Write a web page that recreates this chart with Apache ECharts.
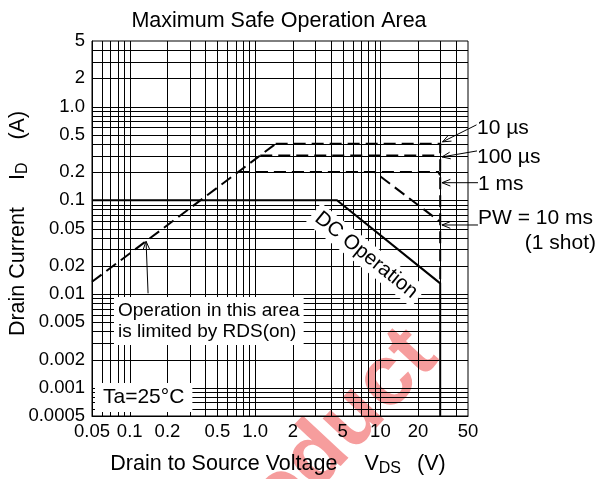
<!DOCTYPE html>
<html>
<head>
<meta charset="utf-8">
<script src="https://cdn.jsdelivr.net/npm/echarts@6/dist/echarts.min.js"></script>
<style>
  html, body { margin: 0; padding: 0; background: #fff; }
  #chart { width: 599px; height: 479px; }
</style>
</head>
<body>
<div id="chart"></div>
<script>
// Axis ranges and tick labels (log-log)
const xRange = [0.05, 50];
const yRange = [0.0005, 5];
const xTickLabels = ['0.05', '0.1', '0.2', '0.5', '1.0', '2', '5', '10', '20', '50'];
const yTickLabels = ['0.0005', '0.001', '0.002', '0.005', '0.01', '0.02', '0.05', '0.1', '0.2', '0.5', '1.0', '2', '5'];

// Log grid lines (1..9 in every decade)
const xGridValues = [0.06, 0.07, 0.08, 0.09, 0.1, 0.2, 0.3, 0.4, 0.5, 0.6, 0.7, 0.8, 0.9,
                     1, 2, 3, 4, 5, 6, 7, 8, 9, 10, 20, 30, 40];
const yGridValues = [0.0006, 0.0007, 0.0008, 0.0009, 0.001, 0.002, 0.003, 0.004, 0.005,
                     0.006, 0.007, 0.008, 0.009, 0.01, 0.02, 0.03, 0.04, 0.05, 0.06, 0.07,
                     0.08, 0.09, 0.1, 0.2, 0.3, 0.4, 0.5, 0.6, 0.7, 0.8, 0.9, 1, 2, 3, 4];

// Safe operating area boundaries: [VDS (V), ID (A)]
const rdsLimit   = [[0.05, 0.0135], [1.46, 0.4]];
const pulse10us  = [[1.46, 0.4], [30, 0.4], [30, 0.013]];
const pulse100us = [[1.1, 0.3], [30, 0.3]];
const pulse1ms   = [[0.73, 0.2], [29, 0.2], [30, 0.185]];
const pulse10ms  = [[0.73, 0.2], [9, 0.2], [30, 0.059]];
const dcLimit    = [[0.05, 0.1], [4.5, 0.1], [30, 0.013], [30, 0.0005]];

// Callout arrow tips (data space) and where each arrow's tail sits relative to its tip (px)
const calloutTips = [[31.3, 0.42], [31, 0.29], [31, 0.154], [31, 0.0545], [0.135, 0.0365]];
const calloutTails = [[34, -17], [35, -6], [36, 0], [36, 0], [2, 52]];

// Anchor of the rotated "DC Operation" caption (data space)
const dcLabelAt = [7.7, 0.026];

const FONT = 'Liberation Sans';

function nearestLabel(list) {
  return function (v) {
    let best = list[0], bd = Infinity;
    for (const s of list) {
      const d = Math.abs(Math.log(parseFloat(s) / v));
      if (d < bd) { bd = d; best = s; }
    }
    return best;
  };
}

function gridSeries(values, dir) {
  return {
    type: 'custom', z: 1, silent: true, animation: false,
    data: values.map(v => dir === 'x' ? [v, yRange[0]] : [xRange[0], v]),
    renderItem: function (params, api) {
      if (dir === 'x') {
        const v = api.value(0);
        const a = api.coord([v, yRange[0]]), b = api.coord([v, yRange[1]]);
        const x = Math.round(a[0]) + 0.5;
        return { type: 'line', shape: { x1: x, y1: a[1], x2: x, y2: b[1] },
                 style: { stroke: '#000', lineWidth: 1 } };
      }
      const v = api.value(1);
      const a = api.coord([xRange[0], v]), b = api.coord([xRange[1], v]);
      const y = Math.round(a[1]) + 0.5;
      return { type: 'line', shape: { x1: a[0], y1: y, x2: b[0], y2: y },
               style: { stroke: '#000', lineWidth: 1 } };
    }
  };
}

function curve(name, data, dashed) {
  return {
    name: name, type: 'line', data: data, symbol: 'none', showSymbol: false,
    silent: true, animation: false, z: 4,
    lineStyle: { color: '#000', width: 2, type: dashed ? [12, 6] : 'solid', cap: 'butt', join: 'miter' }
  };
}

const chart = echarts.init(document.getElementById('chart'), null, { renderer: 'canvas' });

chart.setOption({
  animation: false,
  backgroundColor: '#fff',
  textStyle: { fontFamily: FONT, color: '#000' },
  title: {
    text: 'Maximum Safe Operation Area',
    left: 279, top: 21, padding: 0,
    textAlign: 'center', textVerticalAlign: 'middle',
    textStyle: { fontFamily: FONT, fontSize: 21.5, fontWeight: 'normal', color: '#000' }
  },
  grid: {
    left: 92, right: 131, top: 41, bottom: 63,
    containLabel: false, outerBoundsMode: 'none',
    show: true, borderColor: '#000', borderWidth: 1, backgroundColor: 'transparent'
  },
  xAxis: {
    type: 'log', logBase: 10, min: xRange[0], max: xRange[1],
    axisLine: { show: true, lineStyle: { color: '#000', width: 1 } },
    axisTick: { show: false },
    splitLine: { show: false },
    axisLabel: {
      customValues: xTickLabels.map(parseFloat),
      formatter: nearestLabel(xTickLabels),
      fontFamily: FONT, fontSize: 18.5, color: '#000', margin: 6
    },
    name: '{a|Drain to Source Voltage}{v|V}{s|DS}{p|(V)}',
    nameLocation: 'middle', nameGap: 35, nameMoveOverlap: false,
    nameTextStyle: {
      rich: {
        a: { fontFamily: FONT, fontSize: 21.5, color: '#000' },
        v: { fontFamily: FONT, fontSize: 21.5, color: '#000', padding: [0, 0, 0, 27] },
        s: { fontFamily: FONT, fontSize: 16, color: '#000', padding: [10, 0, 0, 0] },
        p: { fontFamily: FONT, fontSize: 21.5, color: '#000', padding: [0, 4, 0, 16] }
      }
    }
  },
  yAxis: {
    type: 'log', logBase: 10, min: yRange[0], max: yRange[1],
    axisLine: { show: true, lineStyle: { color: '#000', width: 1 } },
    axisTick: { show: false },
    splitLine: { show: false },
    axisLabel: {
      customValues: yTickLabels.map(parseFloat),
      formatter: nearestLabel(yTickLabels),
      fontFamily: FONT, fontSize: 18.5, color: '#000', margin: 7
    },
    name: '{a|Drain Current}{i|I}{s|D}{p|(A)}',
    nameLocation: 'middle', nameGap: 61, nameMoveOverlap: false,
    nameTextStyle: {
      rich: {
        a: { fontFamily: FONT, fontSize: 21.5, color: '#000', padding: [0, 0, 0, 10] },
        i: { fontFamily: FONT, fontSize: 21.5, color: '#000', padding: [0, 0, 0, 27] },
        s: { fontFamily: FONT, fontSize: 16, color: '#000', padding: [10, 0, 0, 0] },
        p: { fontFamily: FONT, fontSize: 21.5, color: '#000', padding: [0, 0, 0, 23] }
      }
    }
  },
  graphic: {
    elements: [
      {
        type: 'text', z: 0, silent: true, x: 423, y: 343, rotation: 0.82,
        style: { text: 'product', font: 'bold 86px "Liberation Sans"', fill: 'rgba(238,60,60,0.5)',
                 align: 'right', verticalAlign: 'middle' }
      },
      {
        type: 'text', z: 3, silent: true, x: 114, y: 297,
        style: { text: 'Operation in this area\nis limited by RDS(on)', font: '19px "Liberation Sans"',
                 fill: '#000', backgroundColor: '#fff', padding: [3, 4, 3, 4], lineHeight: 21,
                 align: 'left', verticalAlign: 'top' }
      },
      {
        type: 'text', z: 3, silent: true, x: 95, y: 383,
        style: { text: 'Ta=25°C', font: '21px "Liberation Sans"', fill: '#000', backgroundColor: '#fff',
                 padding: [4, 8, 4, 8], align: 'left', verticalAlign: 'top' }
      },
      { type: 'text', silent: true, x: 477, y: 128,
        style: { text: '10 µs', font: '21px "Liberation Sans"', fill: '#000', align: 'left', verticalAlign: 'middle' } },
      { type: 'text', silent: true, x: 477, y: 157,
        style: { text: '100 µs', font: '21px "Liberation Sans"', fill: '#000', align: 'left', verticalAlign: 'middle' } },
      { type: 'text', silent: true, x: 478, y: 184,
        style: { text: '1 ms', font: '21px "Liberation Sans"', fill: '#000', align: 'left', verticalAlign: 'middle' } },
      { type: 'text', silent: true, x: 478, y: 218,
        style: { text: 'PW = 10 ms', font: '21px "Liberation Sans"', fill: '#000', align: 'left', verticalAlign: 'middle' } },
      { type: 'text', silent: true, x: 596, y: 243,
        style: { text: '(1 shot)', font: '21px "Liberation Sans"', fill: '#000', align: 'right', verticalAlign: 'middle' } }
    ]
  },
  series: [
    gridSeries(xGridValues, 'x'),
    gridSeries(yGridValues, 'y'),
    {
      // rotated caption along the DC limit
      type: 'custom', z: 3, silent: true, animation: false,
      data: [dcLabelAt],
      renderItem: function (params, api) {
        const p = api.coord([api.value(0), api.value(1)]);
        const a = api.coord(dcLimit[1]), b = api.coord(dcLimit[2]);
        const rot = -Math.atan2(b[1] - a[1], b[0] - a[0]);
        return {
          type: 'text', x: p[0], y: p[1], rotation: rot,
          style: { text: 'DC Operation', font: '20.5px "Liberation Sans"', fill: '#000',
                   align: 'center', verticalAlign: 'middle', backgroundColor: '#fff', padding: [2, 5] }
        };
      }
    },
    curve('RDS(on) limit', rdsLimit, true),
    curve('10 µs', pulse10us, true),
    curve('100 µs', pulse100us, true),
    curve('1 ms', pulse1ms, true),
    curve('10 ms', pulse10ms, true),
    curve('DC', dcLimit, false),
    {
      // callout arrows with open heads
      type: 'custom', z: 5, silent: true, animation: false,
      data: calloutTips.map((t, i) => [t[0], t[1], i]),
      renderItem: function (params, api) {
        const tip = api.coord([api.value(0), api.value(1)]);
        const off = calloutTails[api.value(2)];
        const tail = [tip[0] + off[0], tip[1] + off[1]];
        const dx = tip[0] - tail[0], dy = tip[1] - tail[1];
        const len = Math.hypot(dx, dy);
        const ux = dx / len, uy = dy / len;
        const L = 9, ang = 0.38;
        const head = s => [tip[0] - L * (ux * Math.cos(ang) - s * uy * Math.sin(ang)),
                           tip[1] - L * (s * ux * Math.sin(ang) + uy * Math.cos(ang))];
        return {
          type: 'group',
          children: [
            { type: 'line', shape: { x1: tail[0], y1: tail[1], x2: tip[0], y2: tip[1] },
              style: { stroke: '#000', lineWidth: 1 } },
            { type: 'polyline', shape: { points: [head(1), tip, head(-1)] },
              style: { stroke: '#000', lineWidth: 1, fill: null } }
          ]
        };
      }
    }
  ]
});
</script>
</body>
</html>
